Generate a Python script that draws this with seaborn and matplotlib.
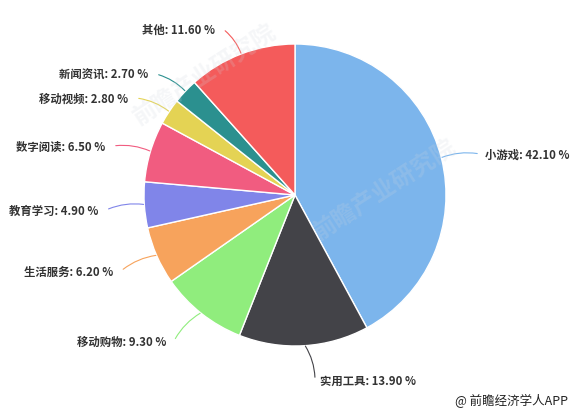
import numpy as np
import matplotlib.pyplot as plt
import seaborn as sns

sns.set_theme(style="white")
plt.rcParams['font.family'] = ['Noto Sans CJK SC', 'DejaVu Sans']

# data (clockwise from 12 o'clock)
categories = ['小游戏', '实用工具', '移动购物', '生活服务', '教育学习',
              '数字阅读', '移动视频', '新闻资讯', '其他']
shares = [42.10, 13.90, 9.30, 6.20, 4.90, 6.50, 2.80, 2.70, 11.60]

colors = ['#7cb5ec', '#434348', '#90ed7d', '#f7a35c', '#8085e9',
          '#f15c80', '#e4d354', '#2b908f', '#f45b5b']

# label anchor points in pixel space (x, y from top), not data
label_pos = [(485, 155), (320, 381), (166, 342), (113, 272), (98, 211),
             (105, 147), (128, 99), (148, 75), (215, 30)]

W, H = 576, 414
cx, cy, R = 295, 196, 151

fig = plt.figure(figsize=(W / 100, H / 100), dpi=100)
ax = fig.add_axes([0, 0, 1, 1])

wedges, _ = ax.pie(shares, colors=colors, startangle=90, counterclock=False,
                   center=(cx, H - cy), radius=R,
                   wedgeprops=dict(edgecolor='white', linewidth=1))
ax.set_aspect('equal')
ax.set_xlim(0, W)
ax.set_ylim(0, H)
ax.axis('off')

for w, name, val, (lx, ly), c in zip(wedges, categories, shares, label_pos, colors):
    mid = np.deg2rad((w.theta1 + w.theta2) / 2)
    ex = cx + (R - 2) * np.cos(mid)
    ey = H - cy + (R - 2) * np.sin(mid)
    right = lx > cx
    ha = 'left' if right else 'right'
    tx = lx - 5 if right else lx + 8
    ax.annotate('', xy=(ex, ey), xytext=(tx, H - ly),
                arrowprops=dict(arrowstyle='-', color=c, lw=0.8,
                                connectionstyle='arc3,rad=%s' % (0.15 if right else -0.15)))
    ax.text(lx, H - ly, f'{name}: {val:.2f} %', ha=ha, va='center',
            fontsize=8.2, fontweight='bold', color='#333333')

# faint watermarks
for (wx, wy) in [(205, 75), (385, 190)]:
    ax.text(wx, H - wy, '前瞻产业研究院', fontsize=17, rotation=33, color='#cfd6de',
            alpha=0.2, ha='center', va='center', fontweight='bold')

ax.text(568, H - 401, '@ 前瞻经济学人APP', ha='right', va='center',
        fontsize=9, color='#222222')

fig.savefig('out.png', dpi=100)
